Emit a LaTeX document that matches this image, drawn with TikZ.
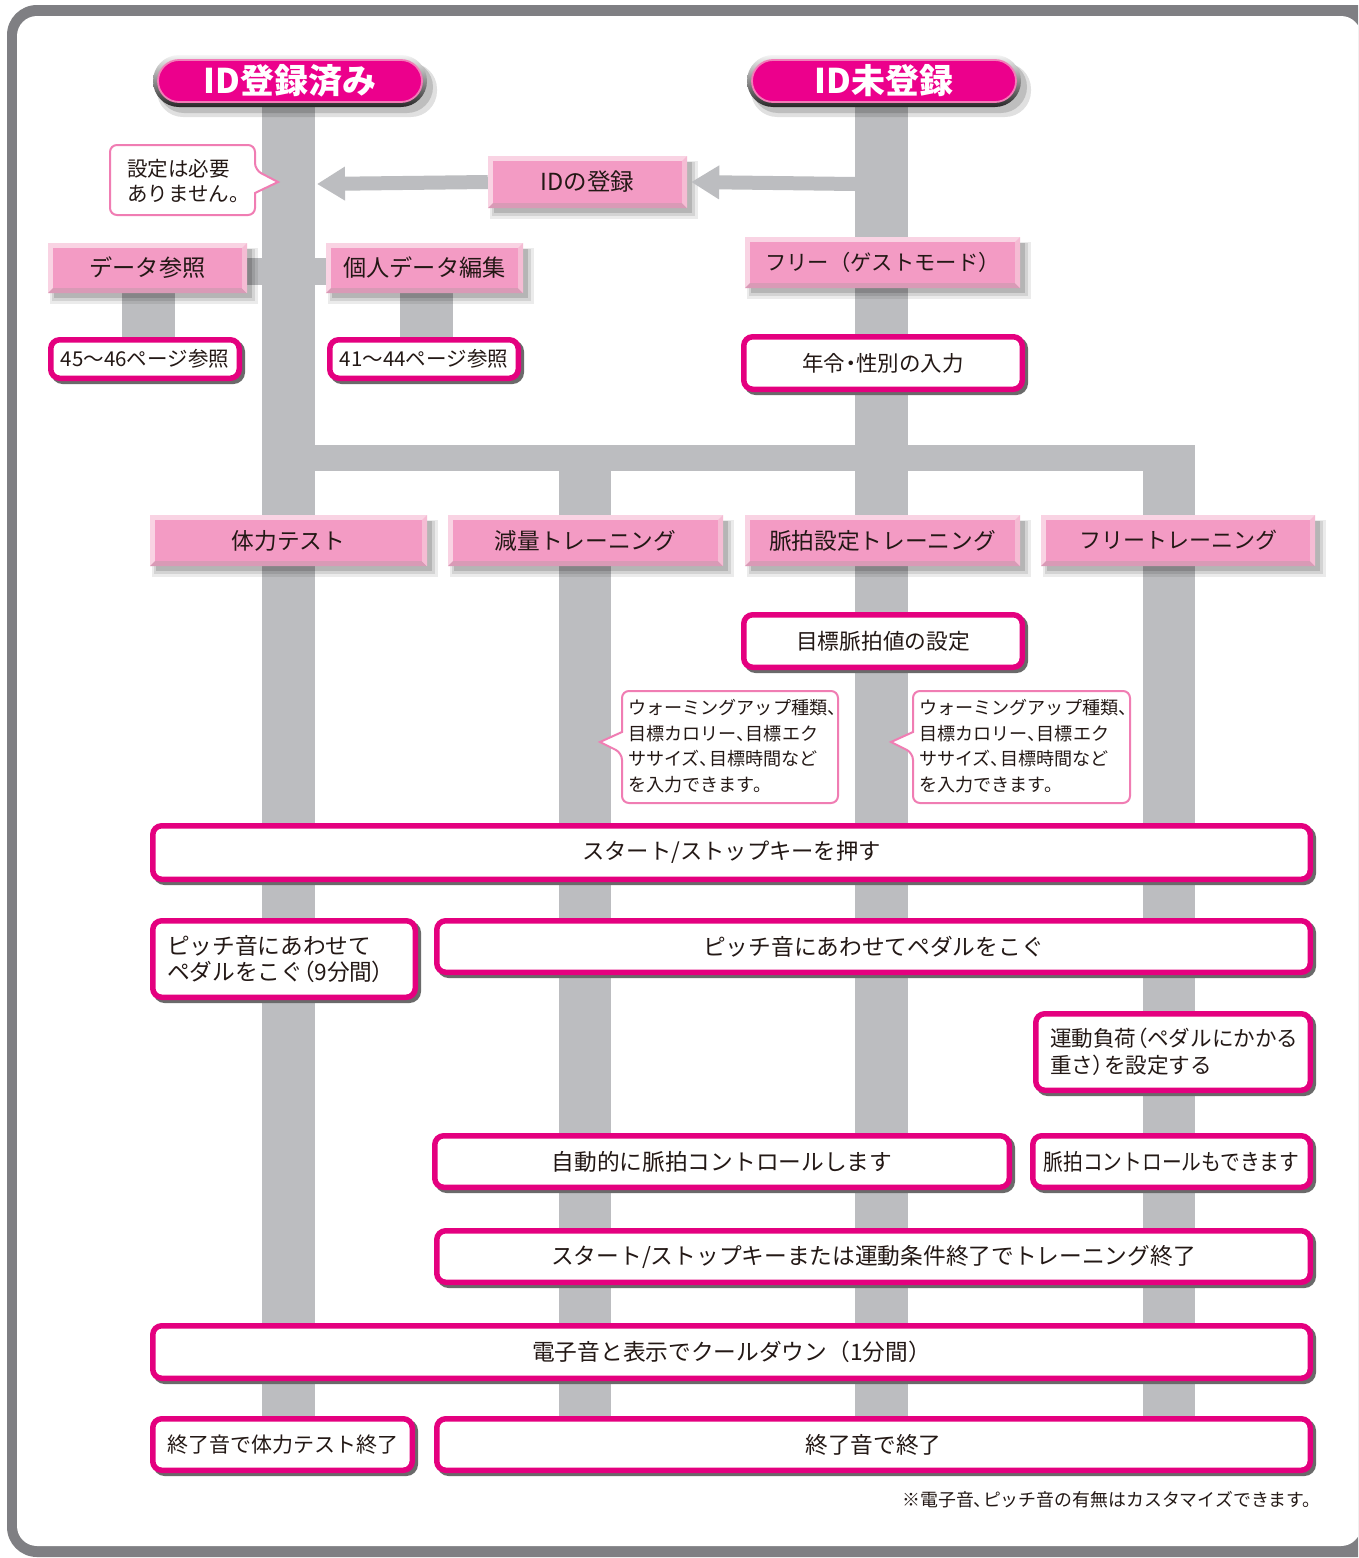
\documentclass[tikz,border=0pt]{standalone}
\usepackage{fontspec}
\setmainfont{Noto Sans CJK JP}
\newfontfamily\pfont{Noto Sans CJK JP}[RawFeature=+palt]
\newcommand\LP{{\pfont （}}
\newcommand\RP{{\pfont ）}}
\newcommand\TC{{\pfont 、}}
\newcommand\ND{{\pfont ・}}
\usetikzlibrary{arrows.meta}
\definecolor{mag}{HTML}{E4007F}
\definecolor{pillmag}{HTML}{EC008C}
\definecolor{pillrim}{HTML}{F27DB8}
\definecolor{barg}{HTML}{BCBDC0}
\definecolor{frameg}{HTML}{7F7F83}
\definecolor{pinkf}{HTML}{F39BC4}
\definecolor{pinkl}{HTML}{F9D3E3}
\definecolor{pinkm}{HTML}{F5BCD4}
\definecolor{pinkd}{HTML}{D99AB6}
\definecolor{calp}{HTML}{F07DB3}
\definecolor{shg}{HTML}{6A6A6A}
\definecolor{txt}{HTML}{231815}
\tikzset{
 bar/.style={draw=barg, line cap=butt},
 garrow/.style={draw=barg, line width=14pt, -{Triangle[length=28pt,width=32pt]}},
 wframe/.style={draw=mag, line width=5.5pt, fill=white, rounded corners=9pt},
 wshadow/.style={draw=shg, line width=5.5pt, fill=shg, rounded corners=9pt},
 wtext/.style={font=\fontsize{22.7}{26.5}\selectfont, text=txt, inner sep=0pt, align=center},
 ptext/.style={font=\fontsize{22.7}{27}\selectfont, text=txt, inner sep=0pt},
 ctext/.style={font=\fontsize{18.1}{25.6}\selectfont, text=txt, inner sep=0pt, align=left},
 callout/.style={draw=calp, line width=2pt, fill=white},
 ttext/.style={font=\fontsize{34}{36}\selectfont\bfseries, text=white, inner sep=0pt},
}
% white box with magenta frame: name, x1, y1, x2, y2, text
\newcommand\WBox[7][wtext]{%
 \draw[wshadow] (#3+5.75,#4+5.75) rectangle (#5+0.25,#6+0.25);
 \draw[wframe] (#3+2.75,#4+2.75) rectangle (#5-2.75,#6-2.75);
 \node[#1, minimum width={(#5-#3)*1pt}, minimum height={(#6-#4)*1pt}] (#2) at ({(#3+#5)/2},{(#4+#6)/2}) {#7};}
\newcommand\WBoxL[7][wtext]{%
 \draw[wshadow] (#3+5.75,#4+5.75) rectangle (#5+0.25,#6+0.25);
 \draw[wframe] (#3+2.75,#4+2.75) rectangle (#5-2.75,#6-2.75);
 \pgfmathsetmacro\boxtw{#5-#3-34}%
 \node[#1, align=left, inner xsep=17pt, text width=\boxtw pt, minimum height={(#6-#4)*1pt}] (#2) at ({(#3+#5)/2},{(#4+#6)/2}) {#7};}
% pink bevel box: name, x1, y1, x2, y2, text
\newcommand\PBox[7][ptext]{%
 \fill[black,opacity=0.08] (#3+2,#4+5) rectangle (#5+11,#6+11);
 \fill[black,opacity=0.10] (#3+4,#4+6) rectangle (#5+8,#6+8);
 \fill[black,opacity=0.14] (#3+6,#4+6) rectangle (#5+5,#6+5);
 \fill[pinkl] (#3,#4) rectangle (#5,#6);
 \fill[pinkd] (#3,#6) -- (#5,#6) -- (#5-5,#6-5) -- (#3+5,#6-5) -- cycle;
 \fill[pinkm] (#5,#4) -- (#5,#6) -- (#5-5,#6-5) -- (#5-5,#4+5) -- cycle;
 \fill[pinkf] (#3+5,#4+5) rectangle (#5-5,#6-5);
 \node[#1, minimum width={(#5-#3)*1pt}, minimum height={(#6-#4)*1pt}] (#2) at ({(#3+#5)/2},{(#4+#6)/2}) {#7};}
% title pill
\newcommand\Pill[6]{%
 \fill[black,opacity=0.12,rounded corners=26pt] (#2+4,#3+8) rectangle (#4+10,#5+10);
 \fill[black,opacity=0.15,rounded corners=26pt] (#2+5,#3+6) rectangle (#4+6,#5+6);
 \shade[rounded corners=26pt, top color=gray!8, bottom color=black!85] (#2,#3) rectangle (#4,#5);
 \fill[pillmag, rounded corners=21pt] (#2+5,#3+5) rectangle (#4-5,#5-5);
 \draw[pillrim, line width=1.8pt, rounded corners=21pt] (#2+5,#3+5) rectangle (#4-5,#5-5);
 \node[ttext, minimum width={(#4-#2)*1pt}, minimum height={(#5-#3)*1pt}] (#1) at ({(#2+#4)/2},{(#3+#5)/2}) {#6};}
\begin{document}
\begin{tikzpicture}[x=1pt,y=-1pt]
\useasboundingbox (0,0) rectangle (1358,1558);
\clip (0,0) rectangle (1358,1558);
% frame
\fill[frameg, rounded corners=30pt] (7,5) rectangle (1390,1557);
\fill[white, rounded corners=20pt] (17,16) rectangle (1361,1546);
% bar coordinates
\coordinate (cAt) at (288.5,100); \coordinate (cAb) at (288.5,1416);
\coordinate (cBt) at (881.5,100); \coordinate (cBb) at (881.5,1416);
\coordinate (cGt) at (585,458);   \coordinate (cGb) at (585,1416);
\coordinate (cRt) at (1169,445);  \coordinate (cRb) at (1169,1416);
\coordinate (hL) at (315,458);    \coordinate (hR) at (1195,458);
\coordinate (dL) at (245,271.5);  \coordinate (dR) at (328,271.5);
\coordinate (s1t) at (148.5,290); \coordinate (s1b) at (148.5,340);
\coordinate (s2t) at (426.5,290); \coordinate (s2b) at (426.5,340);
\coordinate (arB) at (855,184);   \coordinate (tipA) at (317,184);
% bars
\draw[bar,line width=53pt] (cAt) -- (cAb);
\draw[bar,line width=53pt] (cBt) -- (cBb);
\draw[bar,line width=52pt] (cGt) -- (cGb);
\draw[bar,line width=52pt] (cRt) -- (cRb);
\draw[bar,line width=26pt] (hL) -- (hR);
\draw[bar,line width=27pt] (dL) -- (dR);
\draw[bar,line width=53pt] (s1t) -- (s1b);
\draw[bar,line width=53pt] (s2t) -- (s2b);
% titles
\Pill{t1}{153}{55}{427}{107}{ID登録済み}
\Pill{t2}{747}{55}{1021}{107}{ID未登録}
% pink boxes
\PBox[ptext,font=\fontsize{23.5}{27}\selectfont]{reg}{488}{156}{687}{208}{IDの登録}
\PBox[ptext,font=\fontsize{21.3}{27}\selectfont]{guest}{745}{237}{1020}{288}{フリー（ゲストモード）}
\PBox[ptext,font=\fontsize{23.2}{27}\selectfont]{dref}{48}{243}{247}{293}{データ参照}
\PBox[ptext,font=\fontsize{23.2}{27}\selectfont]{pedit}{326}{243}{523}{293}{個人データ編集}
\PBox{fit}{150}{515}{427}{566}{体力テスト}
\PBox{lose}{448}{515}{723}{566}{減量トレーニング}
\PBox{pset}{745}{515}{1020}{566}{脈拍設定トレーニング}
\PBox[ptext,font=\fontsize{22}{27}\selectfont]{free}{1041}{515}{1315}{566}{フリートレーニング}
% arrows
\draw[garrow] (arB) -- ([xshift=4pt]reg.east);
\draw[garrow] (reg.west) -- (tipA);
% callouts
\draw[callout] (180,145) [rounded corners=7pt] -- (255,145) -- (255,170) [sharp corners] -- (278,182) -- (255,193) [rounded corners=7pt] -- (255,215) -- (110,215) -- (110,145) -- cycle;
\node[ctext, font=\fontsize{20.5}{25}\selectfont, anchor=west] (c1) at (127,181) {設定は必要\\ありません。};
\draw[callout] (700,691) [rounded corners=7pt] -- (838,691) -- (838,803) -- (622,803) -- (622,753) [sharp corners] -- (600,742) -- (622,732) [rounded corners=7pt] -- (622,691) -- cycle;
\node[ctext, anchor=west] (c2) at (628,746) {ウォーミングアップ種類\TC\\目標カロリー\TC 目標エク\\ササイズ\TC 目標時間など\\を入力できます。};
\draw[callout] (990,691) [rounded corners=7pt] -- (1130,691) -- (1130,803) -- (913,803) -- (913,753) [sharp corners] -- (891,742) -- (913,732) [rounded corners=7pt] -- (913,691) -- cycle;
\node[ctext, anchor=west] (c3) at (919,746) {ウォーミングアップ種類\TC\\目標カロリー\TC 目標エク\\ササイズ\TC 目標時間など\\を入力できます。};
% white boxes
\WBox[wtext,font=\fontsize{20.5}{26}\selectfont]{p1}{48}{337}{242}{381}{45〜46ページ参照}
\WBox[wtext,font=\fontsize{20.5}{26}\selectfont]{p2}{327}{337}{521}{381}{41〜44ページ参照}
\WBox[wtext,font=\fontsize{21.5}{26}\selectfont]{age}{741}{334}{1025}{392}{年令\ND 性別の入力}
\WBox[wtext,font=\fontsize{21.7}{26}\selectfont]{tgt}{741}{612}{1025}{670}{目標脈拍値の設定}
\WBox[wtext,font=\fontsize{22.3}{26}\selectfont]{start}{150}{823}{1313}{882}{スタート/ストップキーを押す}
\WBoxL{pitchA}{150}{918}{418}{1000}{ピッチ音にあわせて\\ペダルをこぐ\LP 9分間\RP}
\WBox{pitchB}{434}{918}{1313}{975}{ピッチ音にあわせてペダルをこぐ}
\WBoxL[wtext,font=\fontsize{21.6}{27}\selectfont]{load}{1033}{1011}{1313}{1093}{運動負荷\LP ペダルにかかる\\重さ\RP を設定する}
\WBox{auto}{432}{1133}{1012}{1190}{自動的に脈拍コントロールします}
\WBox{canp}{1030}{1133}{1313}{1190}{\scalebox{0.87}[1]{脈拍コントロールもできます}}
\WBox{stop}{434}{1228}{1313}{1285}{スタート/ストップキーまたは運動条件終了でトレーニング終了}
\WBox{cool}{150}{1323}{1313}{1381}{電子音と表示でクールダウン（1分間）}
\WBox[wtext,font=\fontsize{21}{26}\selectfont]{endA}{150}{1416}{415}{1473}{終了音で体力テスト終了}
\WBox{endB}{434}{1416}{1313}{1473}{終了音で終了}
% footnote
\node[text=txt, font=\fontsize{17.9}{20}\selectfont, inner sep=0pt, anchor=east] (note) at (1321,1500) {※電子音\TC ピッチ音の有無はカスタマイズできます。};
\end{tikzpicture}
\end{document}
